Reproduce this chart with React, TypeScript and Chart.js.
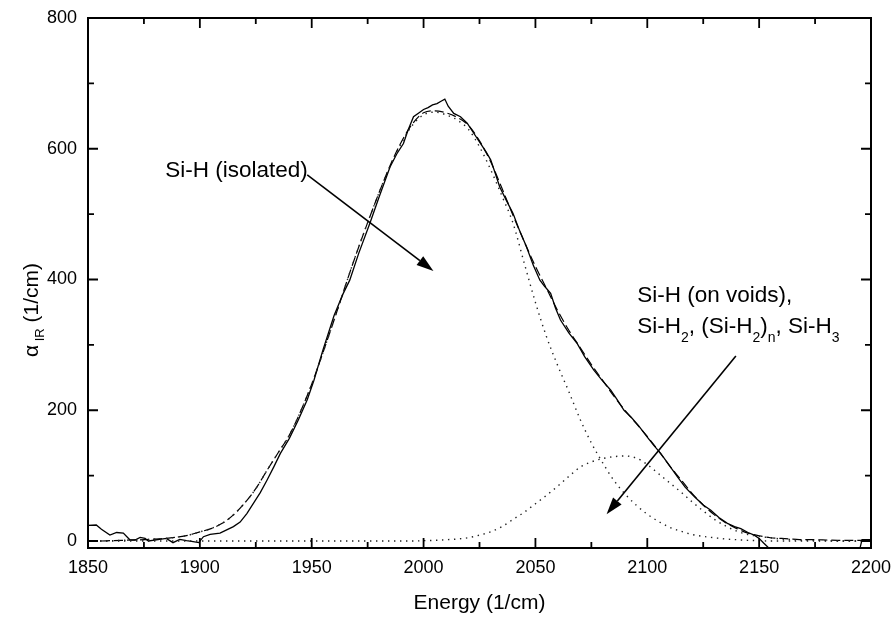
import React, { useEffect, useRef } from "react";
import { Chart, registerables } from "chart.js";

Chart.register(...registerables);

const FONT = "'Liberation Sans', Arial, Helvetica, sans-serif";

// ---- tick values ----
const xMajorTicks = [1850, 1900, 1950, 2000, 2050, 2100, 2150, 2200];
const xMinorTicks = [1875, 1925, 1975, 2025, 2075, 2125, 2175];
const yMajorTicks = [0, 200, 400, 600, 800];
const yMinorTicks = [100, 300, 500, 700];

// ---- measured spectrum (solid) ----
const energyMeasured = [
  1850, 1853.7, 1856, 1859.8, 1862.8, 1865.8, 1868.8, 1871, 1873.3, 1875.5, 1877, 1882, 1885, 1888, 1891,
  1894, 1897, 1899.5, 1901.6, 1904.6, 1909, 1915, 1918, 1921, 1924, 1927, 1930, 1933, 1936, 1940, 1944,
  1948, 1951, 1955, 1960, 1964, 1967, 1971, 1976, 1980, 1985, 1988, 1991, 1993, 1995.5, 1998, 2000, 2002,
  2004, 2006, 2008, 2009.5, 2011, 2013.5, 2016.5, 2019.5, 2022, 2025.5, 2028, 2030, 2032, 2034, 2037, 2040,
  2043, 2046, 2049, 2052, 2054, 2056.8, 2059, 2061.2, 2065, 2068.7, 2072, 2076.2, 2080, 2083.6, 2086.6,
  2089.6, 2092.6, 2096, 2100, 2103, 2106, 2110, 2113.5, 2117, 2121, 2125, 2128.4, 2132, 2135.8, 2139,
  2141.8, 2145, 2147.8, 2150, 2152, 2155, 2160, 2170, 2180, 2190, 2195, 2196, 2200,
];
const alphaMeasured = [
  24, 24.5, 18, 9, 13, 12, 1.5, 1.5, 5.6, 4, 0, 2.5, 4, -2.5, 2.5,
  0.5, -1, -2.5, 6.6, 10, 12, 22, 29, 42, 58, 74, 93, 113, 134, 157, 185,
  216, 246, 292, 345, 378, 399, 440, 486, 525, 572, 592, 608, 628, 649, 655, 660, 663,
  667, 669, 673, 676, 665, 654, 649, 639, 626, 608, 595, 583, 563, 542, 521, 501,
  474, 450, 422, 399, 390, 379, 356, 338, 318, 302, 282, 261, 245, 231, 216,
  200, 190, 177, 159, 146, 134, 115, 98, 82, 68, 55, 47, 36, 27, 22,
  19, 13, 9, 4, -3, -13, -20, -22, -20, -14, -12, 2, 2,
];

// ---- fit grid ----
const energyFit = [
  1850, 1855, 1860, 1865, 1870, 1875, 1880, 1885, 1890, 1895, 1900, 1905, 1910, 1915, 1920, 1925, 1930,
  1935, 1940, 1945, 1950, 1955, 1960, 1965, 1970, 1975, 1980, 1985, 1990, 1995, 2000, 2005, 2010, 2015,
  2020, 2025, 2030, 2035, 2040, 2045, 2050, 2055, 2060, 2065, 2070, 2075, 2080, 2085, 2090, 2095, 2100,
  2105, 2110, 2115, 2120, 2125, 2130, 2135, 2140, 2145, 2150, 2155, 2160, 2165, 2170, 2175, 2180, 2185,
  2190, 2195, 2200,
];
// total fit (dashed)
const alphaFit = [
  0, 0, 0.5, 1, 1.5, 2, 3, 4, 6, 9, 14, 19, 27, 40, 58, 80, 108,
  135, 162, 198, 240, 288, 338, 390, 440, 487, 532, 574, 610, 638, 655, 658, 655, 648,
  636, 612, 580, 540, 498, 458, 420, 386, 352, 322, 296, 270, 246, 222, 200, 180, 160,
  138, 115, 94, 73, 55, 40, 28, 19, 12, 8, 5, 4, 3, 2, 2, 1.5, 1,
  1, 1, 1,
];
// Si-H isolated component (dotted)
const alphaIsolated = [
  0, 0, 0.5, 1, 1.5, 2, 3, 4, 6, 9, 14, 19, 27, 40, 58, 80, 108,
  135, 162, 198, 240, 288, 338, 390, 440, 487, 532, 573, 608, 636, 652, 656, 652, 644,
  630, 603, 568, 528, 486, 425, 365, 312, 268, 228, 186, 150, 120, 93, 72, 55, 41,
  30, 21, 15, 10, 7, 5, 3, 2, 1, 0.5, 0, 0, 0, 0, 0, 0, 0,
  0, 0, 0,
];
// Si-H on voids / SiH2 / SiH3 component (dotted)
const alphaVoids = [
  0, 0, 0, 0, 0, 0, 0, 0, 0, 0, 0, 0, 0, 0, 0, 0, 0,
  0, 0, 0, 0, 0, 0, 0, 0, 0, 0, 0, 0, 0, 0.5, 1, 2, 3,
  5, 9, 14, 22, 33, 44, 57, 70, 84, 99, 113, 121, 126, 129, 130, 127, 117,
  103, 89, 75, 60, 46, 33, 23, 15, 10, 7, 5, 3, 2, 1, 1, 0.5, 0,
  0, 0, 0,
];

// ---- annotation anchors (data coordinates) ----
const label1 = { x: 1884.5, y: 567 };
const arrow1 = { x1: 1948, y1: 560, x2: 2004.4, y2: 413 };
const label2 = { x: 2095.5, y1: 366, y2: 318 };
const arrow2 = { x1: 2139.6, y1: 283, x2: 2081.8, y2: 41 };

type Part = { t: string; sub?: boolean };

function drawRich(ctx: CanvasRenderingContext2D, parts: Part[], x: number, y: number, size: number, subSize: number, subDy: number) {
  let cx = x;
  for (const p of parts) {
    ctx.font = `${p.sub ? subSize : size}px ${FONT}`;
    ctx.fillText(p.t, cx, y + (p.sub ? subDy : 0));
    cx += ctx.measureText(p.t).width;
  }
  return cx - x;
}

function richWidth(ctx: CanvasRenderingContext2D, parts: Part[], size: number, subSize: number) {
  let w = 0;
  for (const p of parts) {
    ctx.font = `${p.sub ? subSize : size}px ${FONT}`;
    w += ctx.measureText(p.t).width;
  }
  return w;
}

function drawArrow(ctx: CanvasRenderingContext2D, x1: number, y1: number, x2: number, y2: number) {
  const ang = Math.atan2(y2 - y1, x2 - x1);
  const len = 17;
  const half = 5.5;
  const bx = x2 - len * Math.cos(ang);
  const by = y2 - len * Math.sin(ang);
  ctx.beginPath();
  ctx.moveTo(x1, y1);
  ctx.lineTo(bx, by);
  ctx.lineWidth = 1.6;
  ctx.strokeStyle = "#000";
  ctx.stroke();
  ctx.beginPath();
  ctx.moveTo(x2, y2);
  ctx.lineTo(bx + half * Math.sin(ang), by - half * Math.cos(ang));
  ctx.lineTo(bx - half * Math.sin(ang), by + half * Math.cos(ang));
  ctx.closePath();
  ctx.fillStyle = "#000";
  ctx.fill();
}

const framePlugin = {
  id: "frame",
  afterDraw(chart: any) {
    const { ctx, chartArea: a, scales } = chart;
    const xs = scales.x;
    const ys = scales.y;
    ctx.save();
    ctx.strokeStyle = "#000";
    ctx.lineWidth = 2;
    ctx.strokeRect(a.left, a.top, a.right - a.left, a.bottom - a.top);
    ctx.lineWidth = 1.8;
    const vt = (vals: number[], len: number) => {
      for (const v of vals) {
        const p = xs.getPixelForValue(v);
        ctx.beginPath();
        ctx.moveTo(p, a.bottom);
        ctx.lineTo(p, a.bottom - len);
        ctx.moveTo(p, a.top);
        ctx.lineTo(p, a.top + len);
        ctx.stroke();
      }
    };
    const ht = (vals: number[], len: number) => {
      for (const v of vals) {
        const p = ys.getPixelForValue(v);
        ctx.beginPath();
        ctx.moveTo(a.left, p);
        ctx.lineTo(a.left + len, p);
        ctx.moveTo(a.right, p);
        ctx.lineTo(a.right - len, p);
        ctx.stroke();
      }
    };
    vt(xMajorTicks, 10);
    vt(xMinorTicks, 6);
    ht(yMajorTicks, 10);
    ht(yMinorTicks, 6);

    // axis titles
    ctx.fillStyle = "#000";
    ctx.font = `21px ${FONT}`;
    ctx.textAlign = "center";
    ctx.textBaseline = "middle";
    ctx.fillText("Energy (1/cm)", (a.left + a.right) / 2, 603);

    const yParts: Part[] = [{ t: "\u03B1" }, { t: " IR", sub: true }, { t: " (1/cm)" }];
    ctx.textAlign = "left";
    ctx.textBaseline = "alphabetic";
    const w = richWidth(ctx, yParts, 21, 13);
    ctx.translate(38, 310);
    ctx.rotate(-Math.PI / 2);
    drawRich(ctx, yParts, -w / 2, 0, 21, 13, 6);
    ctx.restore();
  },
};

const annotPlugin = {
  id: "annot",
  afterDatasetsDraw(chart: any) {
    const { ctx, scales } = chart;
    const X = (v: number) => scales.x.getPixelForValue(v);
    const Y = (v: number) => scales.y.getPixelForValue(v);
    ctx.save();
    ctx.fillStyle = "#000";
    ctx.textAlign = "left";
    ctx.textBaseline = "middle";
    ctx.font = `22.5px ${FONT}`;
    ctx.fillText("Si-H (isolated)", X(label1.x), Y(label1.y));
    drawArrow(ctx, X(arrow1.x1), Y(arrow1.y1), X(arrow1.x2), Y(arrow1.y2));

    ctx.textBaseline = "alphabetic";
    ctx.fillStyle = "#000";
    ctx.font = `22.5px ${FONT}`;
    ctx.fillText("Si-H (on voids),", X(label2.x), Y(label2.y1));
    drawRich(
      ctx,
      [
        { t: "Si-H" },
        { t: "2", sub: true },
        { t: ", (Si-H" },
        { t: "2", sub: true },
        { t: ")" },
        { t: "n", sub: true },
        { t: ", Si-H" },
        { t: "3", sub: true },
      ],
      X(label2.x),
      Y(label2.y2),
      22.5,
      14,
      9
    );
    drawArrow(ctx, X(arrow2.x1), Y(arrow2.y1), X(arrow2.x2), Y(arrow2.y2));
    ctx.restore();
  },
};

export default function App() {
  const ref = useRef<HTMLCanvasElement | null>(null);

  useEffect(() => {
    if (!ref.current) return;
    const toXY = (xs: number[], ys: number[]) => xs.map((x, i) => ({ x, y: ys[i] }));
    const chart = new Chart(ref.current, {
      type: "line",
      data: {
        datasets: [
          {
            label: "Si-H isolated",
            data: toXY(energyFit, alphaIsolated),
            borderColor: "#222",
            borderWidth: 1.4,
            borderDash: [1.4, 4.6],
            pointRadius: 0,
            cubicInterpolationMode: "monotone",
            fill: false,
          },
          {
            label: "Si-H voids",
            data: toXY(energyFit, alphaVoids),
            borderColor: "#222",
            borderWidth: 1.4,
            borderDash: [1.4, 4.6],
            pointRadius: 0,
            cubicInterpolationMode: "monotone",
            fill: false,
          },
          {
            label: "Fit",
            data: toXY(energyFit, alphaFit),
            borderColor: "#000",
            borderWidth: 1.2,
            borderDash: [9, 4],
            pointRadius: 0,
            cubicInterpolationMode: "monotone",
            fill: false,
          },
          {
            label: "Measured",
            data: toXY(energyMeasured, alphaMeasured),
            borderColor: "#000",
            borderWidth: 1.3,
            pointRadius: 0,
            tension: 0,
            fill: false,
          },
        ],
      },
      options: {
        responsive: true,
        maintainAspectRatio: false,
        animation: false,
        layout: { padding: { top: 18, right: 22, left: 0, bottom: 0 } },
        plugins: { legend: { display: false }, tooltip: { enabled: false } },
        scales: {
          x: {
            type: "linear",
            min: 1850,
            max: 2200,
            afterFit: (s: any) => {
              s.height = 71;
              s.paddingLeft = 0;
              s.paddingRight = 0;
            },
            afterBuildTicks: (s: any) => {
              s.ticks = xMajorTicks.map((v) => ({ value: v }));
            },
            grid: { display: false, drawTicks: false },
            border: { display: false },
            ticks: {
              color: "#000",
              font: { family: FONT, size: 18 },
              padding: 9,
              maxRotation: 0,
              autoSkip: false,
              callback: (v: any) => String(v),
            },
          },
          y: {
            type: "linear",
            min: -10.7,
            max: 800,
            afterFit: (s: any) => {
              s.width = 88;
              s.paddingTop = 0;
              s.paddingBottom = 0;
            },
            afterBuildTicks: (s: any) => {
              s.ticks = yMajorTicks.map((v) => ({ value: v }));
            },
            grid: { display: false, drawTicks: false },
            border: { display: false },
            ticks: {
              color: "#000",
              font: { family: FONT, size: 18 },
              padding: 11,
              autoSkip: false,
              callback: (v: any) => String(v),
            },
          },
        },
      },
      plugins: [framePlugin, annotPlugin],
    } as any);
    return () => chart.destroy();
  }, []);

  return (
    <div style={{ position: "absolute", left: 0, top: 0, width: 893, height: 619, background: "#fff" }}>
      <canvas ref={ref} />
    </div>
  );
}
